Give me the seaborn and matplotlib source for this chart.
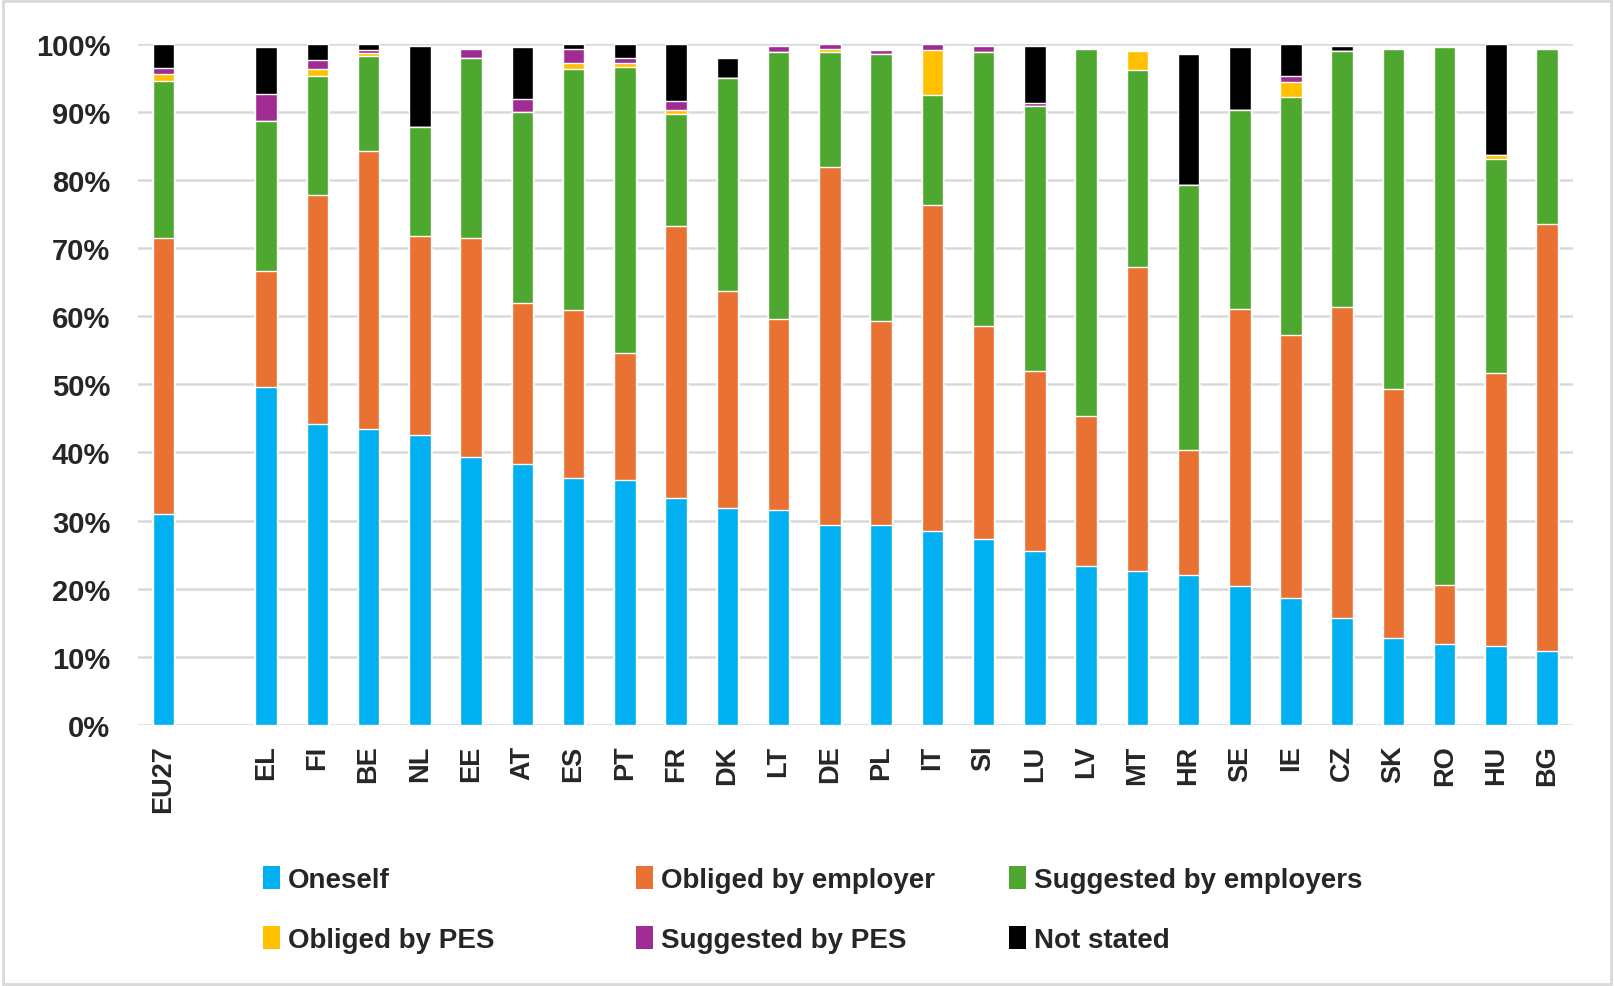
import numpy as np
import pandas as pd
import seaborn as sns
from matplotlib import pyplot as plt
from matplotlib.patches import Patch, Rectangle

countries = ["EU27", "EL", "FI", "BE", "NL", "EE", "AT", "ES", "PT", "FR", "DK", "LT", "DE", "PL",
             "IT", "SI", "LU", "LV", "MT", "HR", "SE", "IE", "CZ", "SK", "RO", "HU", "BG"]
oneself = [30.9, 49.6, 44.1, 43.5, 42.5, 39.3, 38.3, 36.2, 35.9, 33.3, 31.8, 31.5, 29.4, 29.4,
           28.5, 27.3, 25.6, 23.4, 22.6, 22.0, 20.4, 18.6, 15.7, 12.7, 11.9, 11.6, 10.9]
obliged_employer = [40.5, 17.0, 33.6, 40.8, 29.2, 32.1, 23.6, 24.7, 18.7, 39.9, 31.9, 28.1, 52.5, 29.9,
                    47.8, 31.2, 26.3, 22.0, 44.6, 18.4, 40.7, 38.6, 45.7, 36.6, 8.6, 40.1, 62.6]
suggested_employers = [23.1, 22.1, 17.5, 13.8, 16.1, 26.5, 28.0, 35.4, 42.0, 16.5, 31.3, 39.1, 16.8, 39.1,
                       16.1, 40.2, 38.9, 53.8, 28.9, 38.9, 29.1, 34.9, 37.5, 49.9, 79.0, 31.4, 25.7]
obliged_pes = [1.1, 0, 1.1, 0.5, 0, 0, 0, 0.8, 0.5, 0.5, 0, 0, 0.5, 0,
               6.6, 0, 0, 0, 2.8, 0, 0, 2.3, 0, 0, 0, 0.6, 0]
suggested_pes = [0.8, 3.9, 1.3, 0.5, 0, 1.3, 1.9, 2.1, 0.8, 1.4, 0, 1.0, 0.8, 0.6,
                 1.0, 1.0, 0.5, 0, 0, 0, 0, 0.9, 0, 0, 0, 0, 0]
not_stated = [3.6, 6.9, 2.4, 0.9, 11.9, 0, 7.7, 0.8, 2.1, 8.4, 2.9, 0, 0, 0,
              0, 0, 8.4, 0, 0, 19.1, 9.3, 4.7, 0.8, 0, 0, 16.3, 0]

series = ["Oneself", "Obliged by employer", "Suggested by employers",
          "Obliged by PES", "Suggested by PES", "Not stated"]
colors = ["#00B0F0", "#E97132", "#4EA72E", "#FFC000", "#A02B93", "#000000"]

df = pd.DataFrame({"country": countries, "Oneself": oneself, "Obliged by employer": obliged_employer,
                   "Suggested by employers": suggested_employers, "Obliged by PES": obliged_pes,
                   "Suggested by PES": suggested_pes, "Not stated": not_stated})
cum = df[series].cumsum(axis=1)
cum["country"] = df["country"]
order = ["EU27", " "] + countries[1:]

sns.set_style("white")
plt.rcParams["font.family"] = ["Liberation Sans", "DejaVu Sans"]
plt.rcParams["font.weight"] = "bold"

fig = plt.figure(figsize=(16.14, 9.87), dpi=100)
ax = fig.add_axes([0.0855, 0.2644, 0.889, 0.6905])

# stacked bars: tallest cumulative first, smaller ones drawn over it
for s, c in reversed(list(zip(series, colors))):
    sns.barplot(data=cum, x="country", y=s, order=order, color=c, saturation=1,
                width=0.42, errorbar=None, ax=ax, zorder=3)

ax.set_ylim(0, 100)
ax.set_xlim(-0.5, len(order) - 0.5)
ax.set_yticks(np.arange(0, 101, 10))
ax.set_yticklabels([f"{v}%" for v in range(0, 101, 10)], fontsize=21, fontweight="bold")
ax.set_xticks(range(len(order)))
ax.set_xticklabels(order, rotation=90, fontsize=19.5, fontweight="bold")
ax.tick_params(axis="x", length=0, pad=14)
ax.tick_params(axis="y", length=0, pad=20)
ax.set_xlabel("")
ax.set_ylabel("")
ax.yaxis.grid(True, color="#D9D9D9", linewidth=1.8, zorder=0)
ax.set_axisbelow(True)
for sp in ax.spines.values():
    sp.set_visible(False)

handles = [Patch(facecolor=c, edgecolor="none") for c in colors]
xs = [0.1545, 0.3855, 0.6165]
for i, x in enumerate(xs):
    fig.legend([handles[i], handles[i + 3]], [series[i], series[i + 3]], loc="upper left",
               bbox_to_anchor=(x, 0.136), frameon=False, handlelength=0.6,
               handleheight=0.9, handletextpad=0.3, labelspacing=1.2, borderpad=0,
               prop={"weight": "bold", "size": 20})

fig.add_artist(Rectangle((0.002, 0.002), 0.996, 0.996, transform=fig.transFigure,
                         fill=False, edgecolor="#D9D9D9", linewidth=2))

fig.savefig("out.png", dpi=100)
